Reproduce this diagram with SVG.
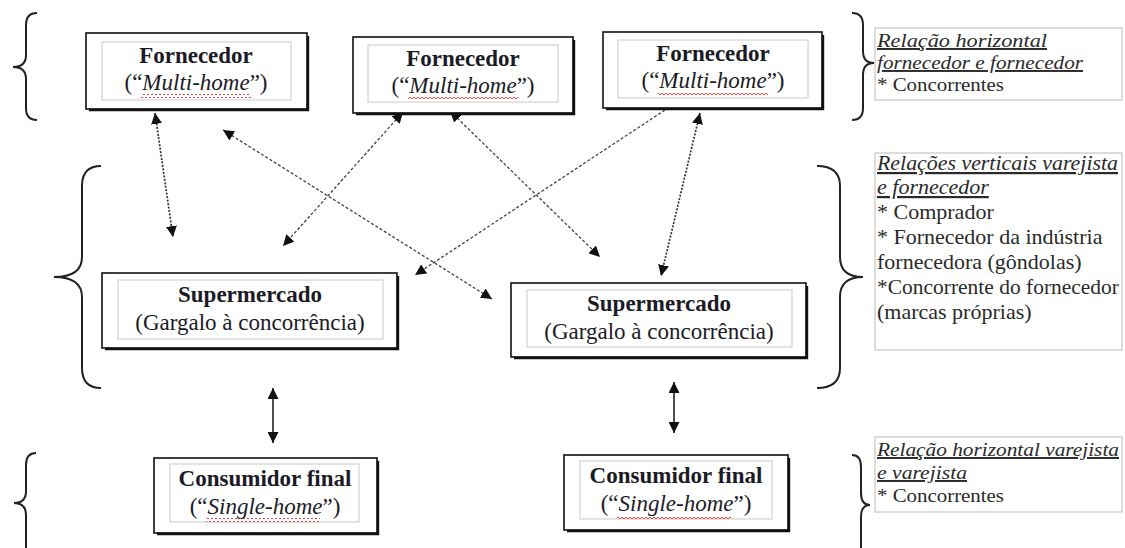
<svg xmlns="http://www.w3.org/2000/svg" width="1125" height="548" viewBox="0 0 1125 548">
<defs>
<style>
.outer{fill:#fff;stroke:#111;stroke-width:1.6}
.shadow{fill:none;stroke:#111;stroke-width:2.4}
.inner{fill:none;stroke:#c9c9c9;stroke-width:1}
.t{font-family:"Liberation Serif","Times New Roman",serif;font-size:23px;fill:#1b1b26;text-anchor:middle}
.b{font-weight:bold}
.r{font-family:"Liberation Serif","Times New Roman",serif;font-size:22px;fill:#2a2a2a}
.rs{font-size:19.5px}
.h{font-style:italic;text-decoration:underline}
.tb{fill:#fff;stroke:#c6c6c6;stroke-width:1.2}
.brace{fill:none;stroke:#222;stroke-width:2}
.d1{fill:none;stroke:#444;stroke-width:1.3;stroke-dasharray:3 2}
.d2{fill:none;stroke:#333;stroke-width:1.7;stroke-dasharray:2 1.5}
.s{fill:none;stroke:#222;stroke-width:1.6}
</style>
<marker id="ah" viewBox="0 0 10 10" refX="10" refY="5" markerWidth="11" markerHeight="11" markerUnits="userSpaceOnUse" orient="auto-start-reverse">
<path d="M0,0 L10,5 L0,10 z" fill="#111"/>
</marker>
<pattern id="wave" width="4" height="4" patternUnits="userSpaceOnUse">
<path d="M0,3 L2,1 L4,3" fill="none" stroke="#e03030" stroke-width="0.9"/>
</pattern>
</defs>

<!-- braces -->
<g id="braces">
<path class="brace" d="M37,13 Q26,13 26,25 L26,55 Q26,67 13,67 Q26,67 26,79 L26,108 Q26,120 37,120"/>
<path class="brace" d="M101,166 Q82,166 82,186 L82,257 Q82,277 54,277 Q82,277 82,297 L82,368 Q82,388 101,388"/>
<path class="brace" d="M36,453 Q26,453 26,465 L26,491 Q26,503 14,503 Q26,503 26,515 L26,548 Q26,560 36,560"/>
<path class="brace" d="M852,13 Q863,13 863,25 L863,51 Q863,63 874,63 Q863,63 863,75 L863,108 Q863,120 852,120"/>
<path class="brace" d="M817,166 Q840,166 840,186 L840,257 Q840,277 863,277 Q840,277 840,297 L840,368 Q840,388 817,388"/>
<path class="brace" d="M852,455 Q861,455 861,467 L861,493 Q861,505 870,505 Q861,505 861,517 L861,548 Q861,560 852,560"/>
</g>

<!-- connectors -->
<g id="connectors">
<line class="d2" x1="155" y1="113" x2="173" y2="237" marker-start="url(#ah)" marker-end="url(#ah)"/>
<line class="d1" x1="223" y1="130" x2="492" y2="299" marker-start="url(#ah)" marker-end="url(#ah)"/>
<line class="d1" x1="403" y1="112" x2="283" y2="246" marker-start="url(#ah)" marker-end="url(#ah)"/>
<line class="d1" x1="450" y1="111" x2="600" y2="257" marker-start="url(#ah)" marker-end="url(#ah)"/>
<line class="d1" x1="665" y1="110" x2="415" y2="275" marker-end="url(#ah)"/>
<path d="M670,100 L681,100 L675.5,108 z" fill="#111"/>
<line class="d2" x1="700" y1="113" x2="661" y2="276" marker-start="url(#ah)" marker-end="url(#ah)"/>
<line class="s" x1="273" y1="388" x2="273" y2="443" marker-start="url(#ah)" marker-end="url(#ah)"/>
<line class="s" x1="674" y1="382" x2="674" y2="433" marker-start="url(#ah)" marker-end="url(#ah)"/>
</g>

<!-- supplier nodes -->
<g id="fornecedor1">
<rect class="outer" x="86" y="33" width="221" height="76"/>
<polyline class="shadow" points="308,36 308,110 89,110"/>
<rect class="inner" x="102" y="42" width="189" height="58"/>
<text class="t b" x="196" y="63">Fornecedor</text>
<text class="t" x="196" y="90">(“<tspan font-style="italic">Multi-home</tspan>”)</text>
<rect x="141" y="94" width="110" height="4" fill="url(#wave)"/>
</g>
<g id="fornecedor2">
<rect class="outer" x="353" y="37" width="220" height="76"/>
<polyline class="shadow" points="574,40 574,114 356,114"/>
<rect class="inner" x="368" y="45" width="190" height="57"/>
<text class="t b" x="463" y="66">Fornecedor</text>
<text class="t" x="463" y="93">(“<tspan font-style="italic">Multi-home</tspan>”)</text>
<rect x="408" y="97" width="110" height="4" fill="url(#wave)"/>
</g>
<g id="fornecedor3">
<rect class="outer" x="603" y="32" width="219" height="76"/>
<polyline class="shadow" points="823,35 823,109 606,109"/>
<rect class="inner" x="618" y="40" width="190" height="58"/>
<text class="t b" x="713" y="61">Fornecedor</text>
<text class="t" x="713" y="88">(“<tspan font-style="italic">Multi-home</tspan>”)</text>
<rect x="658" y="92" width="110" height="4" fill="url(#wave)"/>
</g>

<!-- supermarket nodes -->
<g id="supermercado1">
<rect class="outer" x="102" y="273" width="295" height="75"/>
<polyline class="shadow" points="398,276 398,349 105,349"/>
<rect class="inner" x="118" y="280" width="265" height="59"/>
<text class="t b" x="250" y="302">Supermercado</text>
<text class="t" x="250" y="330">(Gargalo à concorrência)</text>
</g>
<g id="supermercado2">
<rect class="outer" x="511" y="283" width="295" height="74"/>
<polyline class="shadow" points="807,286 807,358 514,358"/>
<rect class="inner" x="527" y="290" width="265" height="57"/>
<text class="t b" x="659" y="311">Supermercado</text>
<text class="t" x="659" y="339">(Gargalo à concorrência)</text>
</g>

<!-- consumer nodes -->
<g id="consumidor1">
<rect class="outer" x="154" y="458" width="223" height="75"/>
<polyline class="shadow" points="378,461 378,534 157,534"/>
<rect class="inner" x="170" y="464" width="189" height="58"/>
<text class="t b" x="265" y="486">Consumidor final</text>
<text class="t" x="265" y="514">(“<tspan font-style="italic">Single-home</tspan>”)</text>
<rect x="206" y="518" width="114" height="4" fill="url(#wave)"/>
</g>
<g id="consumidor2">
<rect class="outer" x="564" y="455" width="224" height="75"/>
<polyline class="shadow" points="789,458 789,531 567,531"/>
<rect class="inner" x="580" y="461" width="192" height="58"/>
<text class="t b" x="676" y="483">Consumidor final</text>
<text class="t" x="676" y="511">(“<tspan font-style="italic">Single-home</tspan>”)</text>
<rect x="617" y="515" width="114" height="4" fill="url(#wave)"/>
</g>

<!-- side notes -->
<g id="nota1">
<rect class="tb" x="875" y="28" width="247" height="72"/>
<text class="r rs" x="877" y="47" textLength="170" lengthAdjust="spacingAndGlyphs"><tspan class="h">Relação horizontal</tspan></text>
<text class="r rs" x="877" y="69" textLength="206" lengthAdjust="spacingAndGlyphs"><tspan class="h">fornecedor e fornecedor</tspan></text>
<text class="r rs" x="877" y="91" textLength="127" lengthAdjust="spacingAndGlyphs">* Concorrentes</text>
</g>
<g id="nota2">
<rect class="tb" x="875" y="153" width="247" height="197"/>
<text class="r" x="877" y="170" textLength="241" lengthAdjust="spacingAndGlyphs"><tspan class="h">Relações verticais varejista</tspan></text>
<text class="r" x="877" y="194"><tspan class="h">e fornecedor</tspan></text>
<text class="r" x="877" y="219">* Comprador</text>
<text class="r" x="877" y="244">* Fornecedor da indústria</text>
<text class="r" x="877" y="269">fornecedora (gôndolas)</text>
<text class="r" x="877" y="294" textLength="242" lengthAdjust="spacingAndGlyphs">*Concorrente do fornecedor</text>
<text class="r" x="877" y="319">(marcas próprias)</text>
</g>
<g id="nota3">
<rect class="tb" x="875" y="437" width="247" height="75"/>
<text class="r rs" x="877" y="456" textLength="242" lengthAdjust="spacingAndGlyphs"><tspan class="h">Relação horizontal varejista</tspan></text>
<text class="r rs" x="877" y="479" textLength="90" lengthAdjust="spacingAndGlyphs"><tspan class="h">e varejista</tspan></text>
<text class="r rs" x="877" y="502" textLength="127" lengthAdjust="spacingAndGlyphs">* Concorrentes</text>
</g>
</svg>
